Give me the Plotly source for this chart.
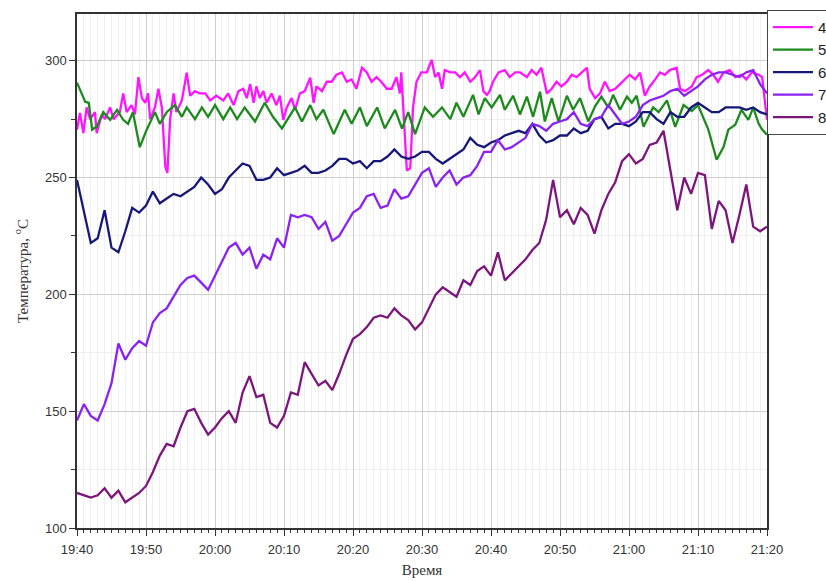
import pandas as pd
import plotly.graph_objects as go

# ---------------- data (minutes after 19:40, temperature in °C) ----------------
series_names = ["4", "5", "6", "7", "8"]

t4 = [0, 0.43, 0.92, 1.4, 1.9, 2.6, 2.85, 3.6, 4.06, 4.8, 5.3, 6.2, 6.7, 7.2, 7.9, 8.4, 8.9, 9.4, 9.9,
      10.3, 10.6, 11.3, 11.8, 12.3, 12.8, 13.1, 13.5, 14.0, 14.4, 15.2, 15.9, 16.4, 17.1, 17.8, 18.6,
      19.3, 20.2, 21.2, 21.9, 22.7, 23.4, 24.1, 24.6, 25.1, 25.6, 26.0, 26.5, 27.0, 27.5, 28.2, 28.9,
      29.4, 29.9, 30.4, 31.1, 31.6, 32.3, 33.0, 33.8, 34.3, 34.7, 35.5, 36.2, 36.9, 37.6, 38.4, 39.1,
      39.8, 40.5, 41.3, 42.0, 42.7, 43.4, 44.1, 44.9, 45.6, 46.3, 46.8, 47.0, 47.4, 47.8, 48.3, 48.7,
      49.2, 49.9, 50.7, 51.4, 51.9, 52.4, 52.9, 53.3, 54.1, 54.8, 55.5, 56.2, 57.0, 57.7, 58.4, 58.9,
      59.4, 59.8, 60.3, 61.1, 62.0, 62.7, 63.5, 64.2, 65.2, 65.9, 66.6, 67.3, 68.1, 68.8, 69.5, 70.2,
      71.0, 71.7, 72.4, 73.1, 73.9, 74.3, 75.1, 75.8, 76.5, 77.2, 78.0, 78.7, 79.4, 80.1, 80.9, 81.6,
      82.3, 83.0, 83.8, 84.5, 85.2, 85.9, 86.9, 87.4, 88.1, 89.1, 89.8, 90.6, 91.5, 92.2, 92.9, 93.7,
      94.6, 95.4, 96.3, 97.0, 97.8, 98.8, 99.3, 99.6, 100]
v4 = [270.5, 277.7, 269, 280, 275, 278, 269, 277, 275, 280, 275, 278, 286, 278, 281, 277, 293, 284, 282,
      286, 275, 280, 288, 280, 254.6, 252, 275, 286, 278, 283, 294.9, 285, 287, 286, 286,
      283, 285, 283, 286, 281, 287, 288, 284, 290, 282, 289, 284, 287, 282, 286, 281,
      285, 274.7, 280, 284, 279, 286, 287, 292.7, 282, 289, 287, 291, 291, 294, 295, 291,
      292, 288, 297, 295, 291, 293, 291, 288, 288, 293, 286, 295, 273, 253, 254, 280,
      291, 295, 295, 300.4, 293, 295, 288, 296, 295, 295, 293, 295, 291, 293, 296, 287,
      285.4, 287, 291, 295, 296, 293, 295, 295, 293, 296, 294, 297, 286, 288, 291, 289,
      291, 294, 293, 295, 297, 288, 284, 286, 291, 287, 288, 290, 292, 294, 292, 294.9,
      285, 289, 292, 295, 294, 296, 297, 288, 287, 289, 293, 294, 296, 294, 291, 295,
      296, 293, 294, 292, 295, 294, 293, 284, 274.7]

t5 = [0, 0.5, 1.2, 1.7, 2.2, 2.9, 3.8, 4.8, 5.8, 6.7, 7.4, 8.1, 9.1, 10.1, 11.3, 12.0, 13.0, 14.2, 15.2,
      15.9, 17.1, 18.1, 19.0, 20.0, 21.2, 22.2, 23.2, 24.3, 25.8, 27.2, 28.4, 29.7, 31.6, 32.6, 33.8,
      34.7, 35.7, 37.2, 38.8, 39.8, 41.0, 42.0, 43.5, 44.6, 46.1, 47.1, 48.0, 49.0, 50.4, 51.6, 52.9,
      54.1, 55.0, 56.0, 57.4, 58.2, 59.1, 60.1, 61.3, 62.0, 63.2, 64.2, 65.2, 66.1, 67.1, 67.8, 68.8,
      69.8, 71.0, 71.9, 72.9, 74.1, 75.1, 76.0, 77.0, 77.7, 78.7, 79.7, 80.4, 81.1, 82.1, 83.5, 84.3,
      85.5, 86.7, 87.9, 89.1, 90.0, 91.5, 92.7, 93.7, 94.4, 95.4, 96.3, 97.3, 98.0, 98.8, 99.3, 100]
v5 = [290.6, 287, 282.4, 282, 270.5, 272, 278, 274.7, 279, 274.7, 273, 278, 263, 270.5, 278, 273, 278, 281, 276,
      280, 275, 280, 276, 281, 275, 280, 275, 280, 274, 282, 276, 271, 280, 274, 281,
      275, 279, 268.6, 279, 273, 280, 272, 280, 271, 279, 271, 278, 268.6, 280, 276, 280,
      275, 282, 276, 285.4, 277, 284, 280, 285.4, 279, 285, 277, 284.6, 276, 286.7, 274, 284,
      273.9, 285, 279, 284, 274, 280.6, 284.6, 279.9, 285.4, 279, 284.6, 282, 285, 271.7, 280, 278,
      283, 271.7, 281, 278.5, 281, 270.5, 257.6, 263, 270.5, 272.6, 279, 274.7, 279.9, 273, 270.5, 268.3]

t_min = list(range(0, 101))
v6 = [249, 236, 222, 224, 236, 220, 218, 227, 237, 235, 238, 244, 239, 241, 243, 242, 244, 246, 250, 247,
      243, 245, 250, 253, 256, 255, 249, 249, 250, 254, 251, 252, 253, 255, 252, 252, 253, 255, 258, 258,
      256, 257, 254, 257, 257, 259, 262, 259, 258, 259, 261, 261, 258, 256, 258, 260, 262, 267, 264, 263,
      265, 266, 268, 269, 270, 269, 273, 268, 265, 266, 268, 268, 271, 269, 270, 275, 276, 271, 273, 273,
      272, 274, 278, 278, 275, 273, 278, 276, 276, 280, 282, 280, 278, 278, 280, 280, 280, 279, 280, 278,
      277]
v7 = [146, 153, 148, 146, 153, 162, 179, 172, 177, 180, 178, 188, 192, 194, 199, 204, 207, 208, 205, 202,
      208, 214, 220, 222, 217, 220, 211, 217, 215, 224, 220, 234, 233, 234, 233, 228, 231, 223, 225, 230,
      235, 237, 242, 243, 237, 238, 245, 241, 242, 247, 252, 254, 246, 250, 253, 247, 250, 251, 255, 261,
      261, 266, 262, 263, 265, 267, 273, 272, 270, 273, 274, 275, 278, 273, 272, 275, 276, 281, 277, 273,
      274, 276, 281, 283, 284, 285, 287, 288, 285, 287, 289, 292, 294, 295, 295, 294, 293, 295, 296, 290,
      286]
v8 = [115, 114, 113, 114, 117, 113, 116, 111, 113, 115, 118, 124, 131, 136, 135, 143, 150, 151, 145, 140,
      143, 147, 150, 145, 158, 165, 156, 157, 145, 143, 148, 158, 157, 171, 166, 161, 163, 159, 166, 174,
      181, 183, 186, 190, 191, 190, 194, 191, 189, 185, 188, 194, 200, 203, 201, 199, 206, 204, 210, 212,
      208, 218, 206, 209, 212, 215, 219, 222, 232, 249, 233, 236, 230, 237, 234, 226, 236, 243, 248, 257,
      260, 256, 258, 264, 265, 270, 253, 236, 250, 243, 252, 251, 228, 240, 236, 222, 234, 247, 229, 227,
      229]

colors = ["#ff14ff", "#1d8a1d", "#17177a", "#8a22f0", "#7c167c"]

x_title = "Время"
y_title = "Температура, <sup>o</sup>C"
start_time = "2020-01-01 19:40"
end_time = "2020-01-01 21:20"

# ---------------- figure ----------------
base = pd.Timestamp(start_time)


def to_time(mins):
    return base + pd.to_timedelta(mins, unit="m")


xs = [t4, t5, t_min, t_min, t_min]
ys = [v4, v5, v6, v7, v8]

fig = go.Figure()
for name, xv, yv, c in zip(series_names, xs, ys, colors):
    fig.add_trace(go.Scatter(x=to_time(xv), y=yv, mode="lines", name=name,
                             line=dict(color=c, width=2.3)))

# The legend in the reference runs past the right edge of the picture,
# so the figure is a bit wider than the window and the overflow is hidden.
W, H = 870, 581
fig.update_layout(
    width=W, height=H,
    margin=dict(l=77, r=W - 767, t=14, b=53, autoexpand=False),
    paper_bgcolor="white", plot_bgcolor="white",
    showlegend=True,
    legend=dict(x=1.0, y=1.008, xanchor="left", yanchor="top",
                bgcolor="white", bordercolor="#444", borderwidth=1,
                font=dict(family="Liberation Sans, Arial", size=15, color="#222"),
                itemwidth=40, tracegroupgap=0),
)

fig.update_xaxes(
    type="date", range=[start_time, end_time],
    tickformat="%H:%M", dtick=600000, tick0=start_time,
    ticks="outside", ticklen=6, tickwidth=1.2, tickcolor="#333",
    showline=True, linecolor="#333", linewidth=1.5, mirror=True,
    showgrid=True, gridcolor="#cfcfcf", gridwidth=1,
    minor=dict(dtick=60000, ticks="outside", ticklen=3, tickcolor="#333",
               showgrid=True, gridcolor="#efefef", gridwidth=1),
    tickfont=dict(family="Liberation Sans, Arial", size=13, color="#333"),
    ticklabelstandoff=3, automargin=False,
    title=dict(text=x_title, standoff=8,
               font=dict(family="Liberation Serif, Times New Roman", size=15, color="#333")),
    zeroline=False,
)
fig.update_yaxes(
    range=[100, 320], tickvals=[100, 150, 200, 250, 300],
    ticks="outside", ticklen=6, tickwidth=1.2, tickcolor="#333",
    showline=True, linecolor="#333", linewidth=1.5, mirror=True,
    showgrid=True, gridcolor="#cfcfcf", gridwidth=1,
    minor=dict(tickvals=[125, 175, 225, 275], ticks="outside", ticklen=4, tickcolor="#333",
               showgrid=True, gridcolor="#efefef", gridwidth=1),
    tickfont=dict(family="Liberation Sans, Arial", size=13, color="#333"),
    automargin=False,
    title=dict(text=y_title, standoff=13,
               font=dict(family="Liberation Serif, Times New Roman", size=15, color="#333")),
    zeroline=False,
)

fig.write_html("out.html", config={"displayModeBar": False},
               post_script="document.body.style.margin='0';document.body.style.overflow='hidden';")
